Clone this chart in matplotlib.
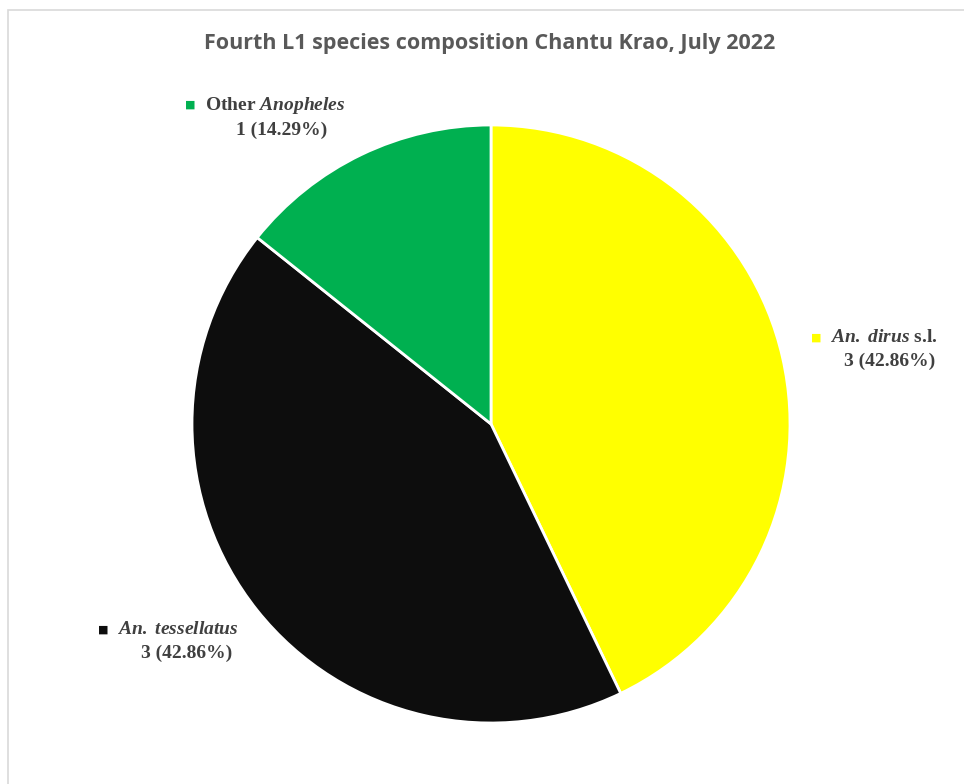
import matplotlib
matplotlib.use("Agg")
import matplotlib.pyplot as plt
from matplotlib.patches import Rectangle

# Species composition data
species_labels = [r"$\mathit{An.\ dirus}$ s.l.", r"$\mathit{An.\ tessellatus}$", r"Other $\mathit{Anopheles}$"]
counts = [3, 3, 1]
colors = ["#FFFF00", "#0D0D0D", "#00B050"]
title = "Fourth L1 species composition Chantu Krao, July 2022"

plt.rcParams["mathtext.fontset"] = "custom"
plt.rcParams["mathtext.rm"] = "Liberation Serif:bold"
plt.rcParams["mathtext.it"] = "Liberation Serif:italic:bold"
plt.rcParams["mathtext.bf"] = "Liberation Serif:bold"

W, H = 964, 784
fig = plt.figure(figsize=(W / 100, H / 100), dpi=100)
fig.patch.set_facecolor("white")

# chart frame
fig.patches.append(Rectangle((8 / W, -0.1), 1.2, (H - 10) / H + 0.1,
                             transform=fig.transFigure, fill=False,
                             edgecolor="#D9D9D9", linewidth=1.2))

cx, cy, r = 491, H - 424, 299
ax = fig.add_axes([(cx - r) / W, (cy - r) / H, 2 * r / W, 2 * r / H])

wedges, _ = ax.pie(counts, colors=colors, startangle=90, counterclock=False,
                   radius=1, wedgeprops=dict(edgecolor="white", linewidth=2))
ax.set_xlim(-1, 1)
ax.set_ylim(-1, 1)
ax.set_aspect("equal")
ax.axis("off")

fig.text(0.5 * (205 + 775) / W, 1 - 43 / H, title, ha="center", va="center",
         fontsize=15.5, fontweight="bold", color="#595959", family="Open Sans")

total = sum(counts)
# label anchors (pixel positions of the two text lines)
label_pos = [(884, 338, 890, 361), (178, 630, 187, 653), (275, 105, 282, 130)]
for lab, n, col, (x1, y1, x2, y2) in zip(species_labels, counts, colors, label_pos):
    t = fig.text(x1 / W, 1 - y1 / H, lab, ha="center", va="center",
                 fontsize=14, fontweight="bold", color="#404040",
                 family="Liberation Serif")
    fig.canvas.draw()
    bb = t.get_window_extent()
    fig.text((bb.x0 - 14) / W, 1 - y1 / H, "\u25A0", ha="center", va="center",
             fontsize=8, color=col, family="DejaVu Sans")
    pct = 100 * n / total
    fig.text(x2 / W, 1 - y2 / H, f"{n} ({pct:.2f}%)", ha="center", va="center",
             fontsize=14, fontweight="bold", color="#404040",
             family="Liberation Serif")

fig.savefig("out.png", dpi=100, facecolor="white")
